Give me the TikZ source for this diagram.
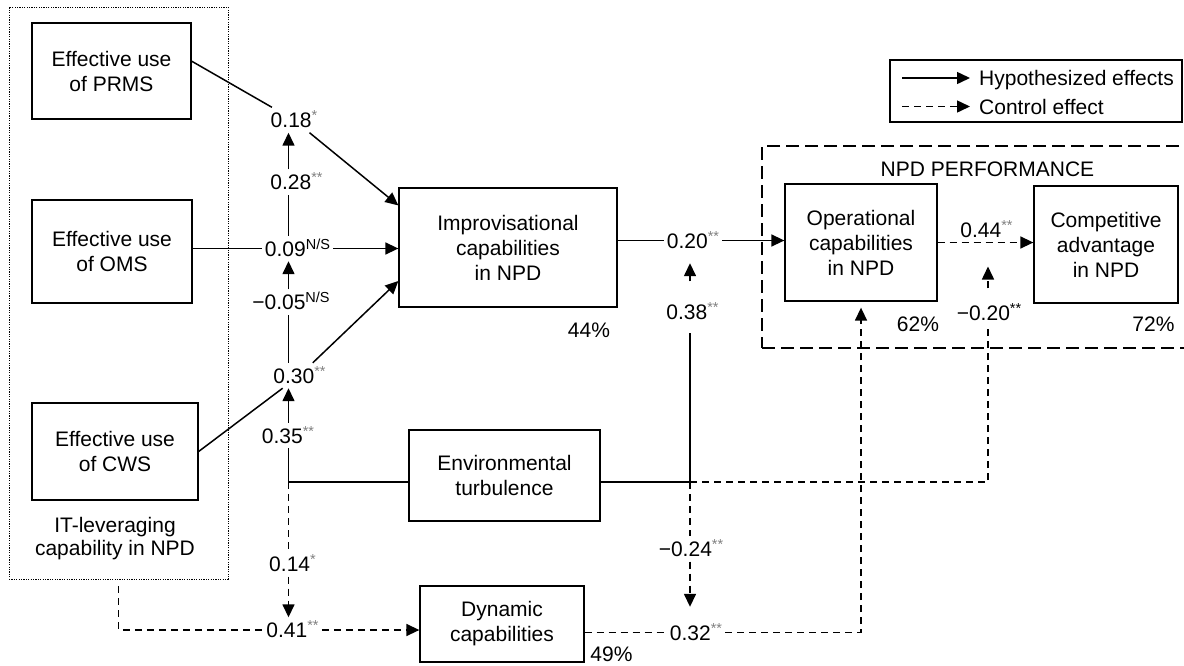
\documentclass[tikz,border=0pt]{standalone}
\usepackage{fontspec}
\setmainfont{Liberation Sans}
\usetikzlibrary{arrows.meta}
\newcommand\sig[1]{\raisebox{7pt}{\fontsize{14.5}{14.5}\selectfont\color{black!50}#1}}
\newcommand\sigk[1]{\raisebox{7pt}{\fontsize{14.5}{14.5}\selectfont #1}}
\tikzset{
  every node/.style={font=\fontsize{21}{25}\selectfont},
  box/.style={draw, line width=1.3pt, align=center, inner sep=0pt},
  lbl/.style={text height=15pt, text depth=0pt, inner xsep=3pt, inner ysep=5pt},
  solidline/.style={line width=1.5pt},
  dashline/.style={line width=1.5pt, dash pattern=on 7pt off 5pt},
  hyp/.style={solidline, -{Triangle[length=13pt,width=12pt]}},
  ctl/.style={dashline, -{Triangle[length=13pt,width=12pt]}},
}
\begin{document}
\begin{tikzpicture}[x=1pt,y=-1pt]
\useasboundingbox (0,0) rectangle (1184,665);
% group boxes
\node[draw, line width=0.9pt, dash pattern=on 1.2pt off 1.2pt, minimum width=219pt, minimum height=572pt, inner sep=0pt] (itbox) at (118.5,293) {};
\node[draw, line width=2.4pt, dash pattern=on 13pt off 6pt, minimum width=440pt, minimum height=202pt, inner sep=0pt] (npd) at (982,247) {};
\node (npdt) at (987.5,169) {NPD PERFORMANCE};
% boxes
\node[box, minimum width=159pt, minimum height=96pt] (prms) at (111.5,71) {Effective use\\of PRMS};
\node[box, minimum width=160pt, minimum height=103pt] (oms) at (112,251.5) {Effective use\\of OMS};
\node[box, minimum width=166pt, minimum height=97pt] (cws) at (115,451.5) {Effective use\\of CWS};
\node[align=center, font=\fontsize{21}{23}\selectfont] (itl) at (115,538.5) {IT-leveraging\\capability in NPD};
\node[box, minimum width=218pt, minimum height=119pt] (imp) at (508,247.5) {Improvisational\\capabilities\\in NPD};
\node[box, minimum width=191pt, minimum height=91pt] (env) at (504.5,475.5) {Environmental\\turbulence};
\node[box, minimum width=164pt, minimum height=76pt] (dyn) at (502,624) {Dynamic\\capabilities};
\node[box, minimum width=152pt, minimum height=117pt] (oper) at (861,242.5) {Operational\\capabilities\\in NPD};
\node[box, minimum width=144pt, minimum height=117pt] (comp) at (1106,244.5) {Competitive\\advantage\\in NPD};
% percentages
\node[lbl] (p44) at (589,330) {44\%};
\node[lbl] (p62) at (918,323.5) {62\%};
\node[lbl] (p72) at (1153.5,323.5) {72\%};
\node[lbl] (p49) at (611.5,653.5) {49\%};
% path labels
\node[lbl] (l18) at (294,120) {0.18\sig{*}};
\node[lbl] (l28) at (296.5,182) {0.28\sig{**}};
\node[lbl] (l09) at (297.5,248.5) {0.09\sigk{N/S}};
\node[lbl] (l05) at (291,302) {−0.05\sigk{N/S}};
\node[lbl] (l30) at (299.5,375.5) {0.30\sig{**}};
\node[lbl] (l35) at (288,435.5) {0.35\sig{**}};
\node[lbl] (l14) at (292.5,564) {0.14\sig{*}};
\node[lbl] (l41) at (292.5,630) {0.41\sig{**}};
\node[lbl] (l20) at (693,240.5) {0.20\sig{**}};
\node[lbl] (l38) at (692.5,312) {0.38\sig{**}};
\node[lbl] (l44) at (986.5,229.5) {0.44\sig{**}};
\node[lbl] (l020) at (989,313) {−0.20\sigk{**}};
\node[lbl] (l024) at (691,549) {−0.24\sig{**}};
\node[lbl] (l32) at (696,632.5) {0.32\sig{**}};
% junctions
\coordinate (jl) at (288.5,482);
\coordinate (jm) at (690,482);
\coordinate (jr) at (988,482);
% hypothesized paths
\draw[solidline] (prms.7) -- (l18);
\draw[hyp] (l18) -- (imp.159);
\draw[solidline] (oms.east |- l09) -- (l09);
\draw[hyp] (l09) -- (l09 -| imp.west);
\draw[solidline] (cws.east) -- (l30);
\draw[hyp] (l30) -- (imp.197);
\draw[solidline] (l09.north -| jl) -- (l28.south -| jl);
\draw[hyp] (l28.north -| jl) -- (l18.south -| jl);
\draw[solidline] (l30.north -| jl) -- (l05.south -| jl);
\draw[hyp] (l05.north -| jl) -- (l09.south -| jl);
\draw[solidline] (jl) -- (l35.south -| jl);
\draw[hyp] (l35.north -| jl) -- (l30.south -| jl);
\draw[solidline] (jl) -- (jl -| env.west);
\draw[solidline] (jl -| env.east) -- (jm);
\draw[solidline, shorten >=8pt] (jm) -- (l38.south -| jm);
\draw[hyp, shorten <=18pt, shorten >=10pt] (l38.north -| jm) -- (l20.south -| jm);
\draw[solidline] (imp.east |- l20) -- (l20);
\draw[hyp] (l20) -- (l20 -| oper.west);
% control paths
\draw[dashline] (jm) -- (jr) -- (l020.south -| jr);
\draw[ctl, shorten <=12pt, shorten >=24pt] (l020.north -| jr) -- (jr |- oper);
\draw[dashline] (jm) -- (l024.north -| jm);
\draw[ctl, shorten >=13pt] (l024.south -| jm) -- (l32.north -| jm);
\draw[dashline] (dyn.east |- l32) -- (l32);
\draw[ctl, shorten >=6pt] (l32) -| (oper);
\draw[dashline, shorten <=7pt] (itbox.south) |- (l41);
\draw[ctl] (l41) -- (l41 -| dyn.west);
\draw[dashline] (jl) -- (l14.north -| jl);
\draw[ctl] (l14.south -| jl) -- (l41.north -| jl);
\draw[ctl] (oper) -- (oper -| comp.west);
% legend
\node[draw, line width=1.3pt, minimum width=292pt, minimum height=62pt, inner sep=0pt] (leg) at (1036,91) {};
\coordinate (lg1a) at (902,78);
\coordinate (lg1b) at (970,78);
\coordinate (lg2a) at (902,106.5);
\coordinate (lg2b) at (970,106.5);
\draw[hyp] (lg1a) -- (lg1b);
\draw[ctl] (lg2a) -- (lg2b);
\node[lbl, anchor=west, inner xsep=0pt] (lgt1) at (979,78) {Hypothesized effects};
\node[lbl, anchor=west, inner xsep=0pt] (lgt2) at (979,106.5) {Control effect};
\end{tikzpicture}
\end{document}
